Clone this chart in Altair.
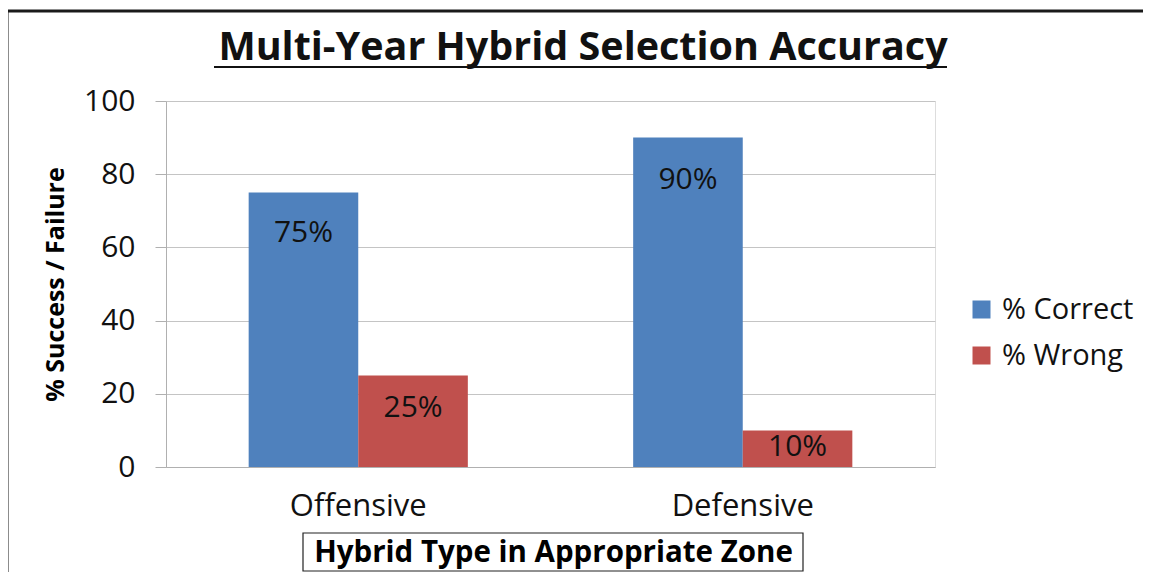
import altair as alt
import pandas as pd

categories = ["Offensive", "Defensive"]
series = ["% Correct", "% Wrong"]
pct_correct = [75, 90]
pct_wrong = [25, 10]
y_ticks = [0, 20, 40, 60, 80, 100]
colors = ["#4F81BD", "#C0504D"]
chart_title = "Multi-Year Hybrid Selection Accuracy"

rows = []
for i, c in enumerate(categories):
    rows.append({"cat": c, "series": series[0], "v": pct_correct[i]})
    rows.append({"cat": c, "series": series[1], "v": pct_wrong[i]})
df = pd.DataFrame(rows)

FONT = "Open Sans"
W, H = 769, 366

xs = alt.X("cat:N", sort=categories, title="Hybrid Type in Appropriate Zone",
           scale=alt.Scale(paddingInner=0.43, paddingOuter=0.215),
           axis=alt.Axis(labelAngle=0, ticks=False, labelFontSize=31, labelFont=FONT,
                         labelColor="#111111", labelPadding=39, labelBaseline="middle",
                         domainColor="#b0b0b0", grid=False,
                         titleFont=FONT, titleFontSize=29.5, titleFontWeight="bold",
                         titleColor="#000000", titleX=387, titleY=85,
                         titleBaseline="middle", titleAlign="center"))
xo = alt.XOffset("series:N", sort=series, scale=alt.Scale(paddingInner=0, paddingOuter=0))
ys = alt.Y("v:Q", scale=alt.Scale(domain=[0, 100]), title="% Success / Failure",
           axis=alt.Axis(values=y_ticks, tickSize=11, tickColor="#b0b0b0",
                         gridColor="#c4c4c4", domainColor="#b0b0b0",
                         labelFontSize=30, labelFont=FONT, labelColor="#111111",
                         labelPadding=20,
                         titleFont=FONT, titleFontSize=25, titleFontWeight="bold",
                         titleColor="#000000", titleX=-111, titleY=H / 2,
                         titleAngle=-90, titleBaseline="middle", titleAlign="center"))

bars = alt.Chart(df).mark_bar().encode(
    x=xs, xOffset=xo, y=ys,
    color=alt.Color("series:N", sort=series, title=None,
                    scale=alt.Scale(domain=series, range=colors),
                    legend=alt.Legend(orient="none", legendX=801, legendY=194,
                                      symbolType="square", symbolSize=324,
                                      symbolStrokeWidth=0, labelFont=FONT,
                                      labelFontSize=29, labelColor="#111111",
                                      labelOffset=6, rowPadding=16)),
)

labels = alt.Chart(df).transform_calculate(
    ly="datum.v - min(datum.v * 0.45, 8 + datum.v * 0.04)",
    lab="datum.v + '%'",
).mark_text(font=FONT, fontSize=30, color="#111111", baseline="middle").encode(
    x=alt.X("cat:N", sort=categories), xOffset=alt.XOffset("series:N", sort=series),
    y=alt.Y("ly:Q"), text="lab:N",
)

one = pd.DataFrame({"t": [chart_title]})
title_txt = alt.Chart(one).mark_text(font=FONT, fontSize=39.5, fontWeight="bold",
                                     color="#111111", baseline="alphabetic",
                                     align="center").encode(
    x=alt.value(417), y=alt.value(-41), text="t:N")
frame_left = alt.Chart(one).mark_rule(color="#1a1a1a", strokeWidth=3).encode(
    x=alt.value(-159), y=alt.value(-91), y2=alt.value(480))
frame_top = alt.Chart(one).mark_rule(color="#1a1a1a", strokeWidth=3).encode(
    x=alt.value(-160), x2=alt.value(990), y=alt.value(-90))
underline = alt.Chart(one).mark_rule(color="#111111", strokeWidth=2).encode(
    x=alt.value(48), x2=alt.value(781), y=alt.value(-34))
box = alt.Chart(one).mark_rect(fill=None, stroke="#222222", strokeWidth=1.2).encode(
    x=alt.value(137), x2=alt.value(637), y=alt.value(432), y2=alt.value(470))

chart = alt.layer(bars, labels, title_txt, frame_left, frame_top, underline, box).properties(
    width=W, height=H,
    autosize=alt.AutoSizeParams(type="none"),
    padding={"left": 158, "top": 93, "right": 208, "bottom": 105},
).configure_view(stroke=None).configure(background="white")

chart.save("out.html", embed_options={"renderer": "svg", "actions": False})
